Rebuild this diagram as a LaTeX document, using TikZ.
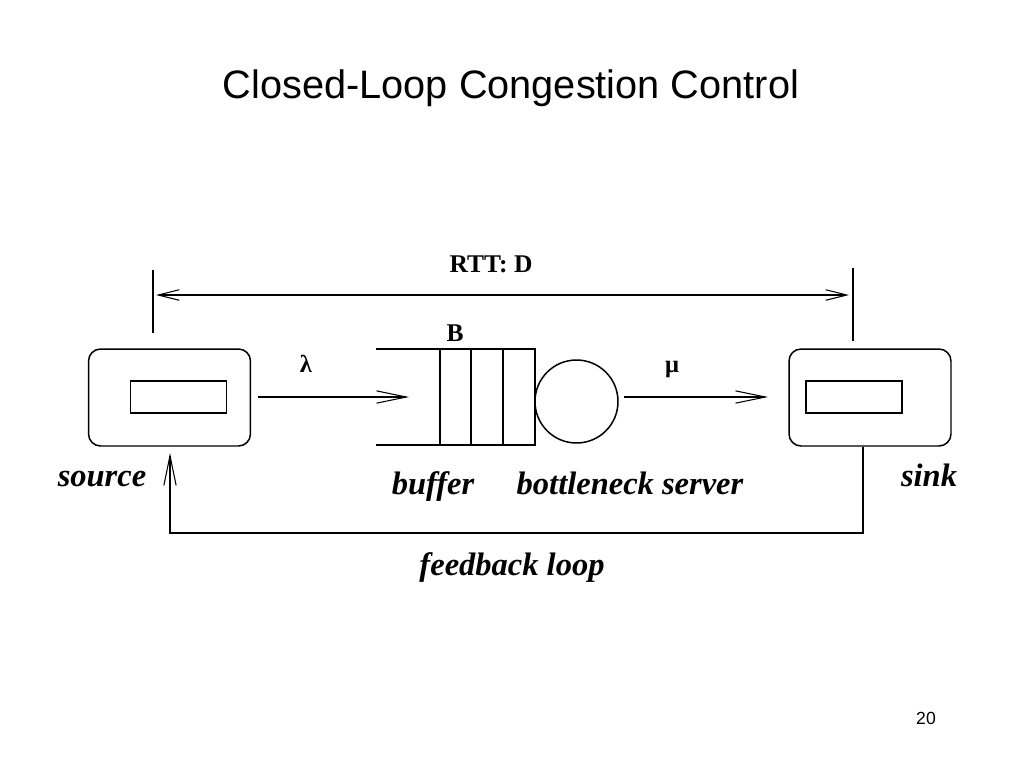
\documentclass[tikz,border=0pt]{standalone}
\usepackage{fontspec}
\setmainfont{Liberation Serif}
\newfontfamily\titlefont{Liberation Sans}
\usetikzlibrary{arrows.meta}
\tikzset{
  line/.style={line width=0.85pt, draw=black},
  outerbox/.style={line, rounded corners=0.24cm, minimum width=3.24cm, minimum height=1.94cm, inner sep=0pt},
  innerbox/.style={line, minimum width=1.92cm, minimum height=0.64cm, inner sep=0pt},
  lbl/.style={font=\fontsize{18.5}{20}\selectfont\bfseries\itshape, inner sep=0pt, anchor=base},
  small/.style={font=\fontsize{14.5}{16}\selectfont\bfseries, inner sep=0pt, anchor=base},
  greek/.style={font=\fontsize{14}{16}\selectfont\bfseries, inner sep=0pt, anchor=base},
  arr/.style={line, -{Straight Barb[length=17pt,width=7pt,line width=0.6pt]}},
  darr/.style={line, {Straight Barb[length=12pt,width=6pt,line width=0.6pt]}-{Straight Barb[length=12pt,width=6pt,line width=0.6pt]}},
}
\begin{document}
\begin{tikzpicture}[x=0.02cm, y=-0.02cm]
\useasboundingbox[fill=white] (0,0) rectangle (1024,768);
% title and page number
\node[font=\titlefont\fontsize{22.6}{26}\selectfont, inner sep=0pt] (title) at (511,88) {Closed-Loop Congestion Control};
\node[font=\titlefont\fontsize{10}{12}\selectfont, inner sep=0pt] (page) at (926,718) {20};
% RTT
\coordinate (tickLt) at (153,270); \coordinate (tickLb) at (153,333);
\coordinate (tickRt) at (853,268); \coordinate (tickRb) at (853,341);
\draw[line] (tickLt) -- (tickLb);
\draw[line] (tickRt) -- (tickRb);
\coordinate (rttL) at (156,295); \coordinate (rttR) at (849,295);
\draw[darr] (rttL) -- (rttR);
\node[small] (rtt) at (491,272) {RTT: D};
% source and sink
\node[outerbox] (src) at (169.5,397.5) {};
\node[innerbox] (srcin) at (178.5,397) {};
\node[outerbox] (sink) at (870,397.5) {};
\node[innerbox] (sinkin) at (854,397) {};
% buffer
\coordinate (bTL) at (376,349); \coordinate (bTR) at (535,349);
\coordinate (bBL) at (376,445); \coordinate (bBR) at (535,445);
\draw[line] (bTL) -- (bTR) -- (bBR) -- (bBL);
\draw[line] (440,349) -- (440,445);
\draw[line] (471,349) -- (471,445);
\draw[line] (503,349) -- (503,445);
\coordinate (bufin) at (409,397);
\node[small] (B) at (455,341) {B};
% server
\node[line, circle, minimum size=1.66cm, inner sep=0pt] (srv) at (576.5,401.5) {};
\coordinate (sinkarr) at (768,397);
% flows
\draw[arr] (258,397) -- (bufin);
\node[greek] (lam) at (306,372) {λ};
\draw[arr] (srv.east |- sinkarr) ++(5,0) -- (sinkarr);
\node[greek] (mu) at (672,372) {μ};
% labels
\node[lbl] (srclbl) at (102,486) {source};
\node[lbl] (buflbl) at (433,494) {buffer};
\node[lbl] (srvlbl) at (630,494) {bottleneck server};
\node[lbl] (sinklbl) at (929,486) {sink};
% feedback
\coordinate (fbR) at (863,533); \coordinate (fbL) at (170,533);
\coordinate (fbT) at (170,453);
\draw[line] (sink.south -| fbR) -- (fbR) -- (fbL) -- (170,470);
\draw[arr] (fbL) -- (fbT);
\node[lbl] (fblbl) at (512,575) {feedback loop};
\end{tikzpicture}
\end{document}
